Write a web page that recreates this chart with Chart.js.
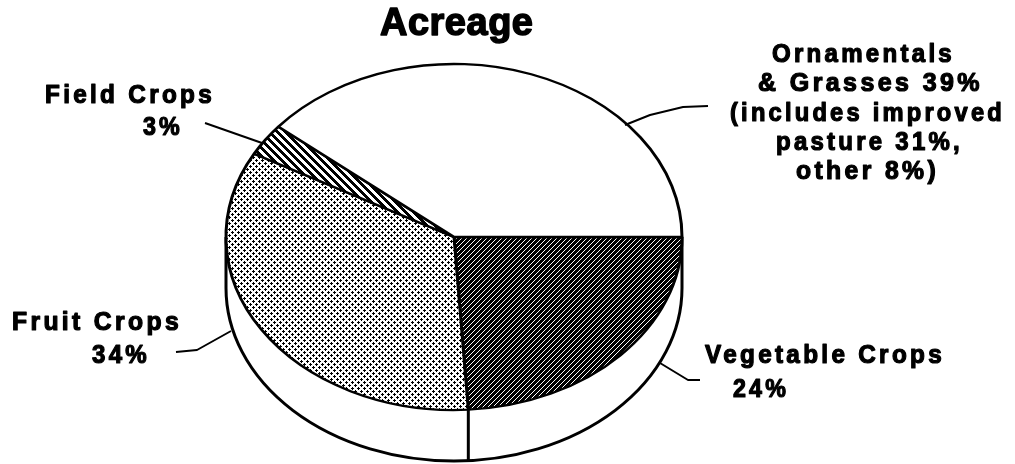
<!DOCTYPE html>
<html>
<head>
<meta charset="utf-8">
<title>Acreage</title>
<script src="https://cdn.jsdelivr.net/npm/chart.js@4"></script>
<style>
html, body { margin: 0; padding: 0; background: #fff; overflow: hidden; }
canvas { display: block; }
</style>
</head>
<body>
<canvas id="myChart" width="1015" height="464"></canvas>
<script>
// data, clockwise from the right hand edge of the pie
var categories = ['Vegetable Crops', 'Fruit Crops', 'Field Crops', 'Ornamentals & Grasses'];
var shares = [24, 34, 3, 39];

var chartTitle = 'Acreage';
var vegetableLines = ['Vegetable Crops', '24%'];
var fruitLines = ['Fruit Crops', '34%'];
var fieldLines = ['Field Crops', '3%'];
var ornamentalLines = ['Ornamentals', '& Grasses 39%', '(includes improved', 'pasture 31%,', 'other 8%)'];

var INK = '#000';
var TILT = 173 / 228;   // squash of the round pie into an ellipse
var RIM = 51;           // depth of the side wall
var FONT = 'bold 25px "Liberation Sans"';

// pixel tiles, no antialiasing so the texture stays hard like the print
function tile(w, h, isInk) {
    var c = document.createElement('canvas');
    c.width = w;
    c.height = h;
    var g = c.getContext('2d');
    g.fillStyle = '#fff';
    g.fillRect(0, 0, w, h);
    g.fillStyle = INK;
    for (var y = 0; y < h; y++) {
        for (var x = 0; x < w; x++) {
            if (isInk(x, y)) g.fillRect(x, y, 1, 1);
        }
    }
    return g.createPattern(c, 'repeat');
}

function hatch(size, ink, rising) {
    return tile(size, size, function (x, y) {
        return ((rising ? x + y : x - y + size) % size) < ink;
    });
}

// small round dots on a staggered grid
var dots = tile(6, 6, function (x, y) {
    return Math.abs(x - 1) + Math.abs(y - 1) <= 1 || Math.abs(x - 4) + Math.abs(y - 4) <= 1;
});

var patterns = [hatch(5, 4, true), dots, hatch(8, 4, false)];
var fills = [patterns[0], patterns[1], patterns[2], '#fff'];

// text blocks and their leader lines, in canvas pixels
var notes = [
    { lines: ornamentalLines, x: [772, 758, 730, 776, 796], y: [62, 91, 121, 150, 179],
      fit: [183, 227, 275, 187, 143],
      leader: [[625, 125], [650, 115], [683, 107], [708, 106]] },
    { lines: fieldLines, x: [45, 143], y: [103, 135], fit: [170, 40],
      leader: [[205, 123], [262, 143]] },
    { lines: fruitLines, x: [12, 92], y: [330, 363], fit: [170, 58],
      leader: [[231, 331], [197, 350], [176, 352]] },
    { lines: vegetableLines, x: [705, 733], y: [363, 397], fit: [240, 56],
      leader: [[660, 363], [688, 380], [700, 380]] }
];

var pie3d = {
    id: 'pie3d',
    beforeDatasetsDraw: function (chart) {
        var ctx = chart.ctx;
        var a = chart.getDatasetMeta(0).data[0];
        var r = a.outerRadius;
        ctx.save();
        ctx.strokeStyle = INK;
        ctx.lineWidth = 3;
        ctx.fillStyle = '#fff';
        ctx.beginPath();
        ctx.moveTo(a.x + r, a.y);
        ctx.lineTo(a.x + r, a.y + RIM);
        ctx.ellipse(a.x, a.y + RIM, r, r * TILT, 0, 0, Math.PI);
        ctx.lineTo(a.x - r, a.y);
        ctx.fill();
        ctx.stroke();
        // seam under the vegetable / fruit boundary
        var sx = a.x + r * Math.cos(a.endAngle);
        var sy = a.y + r * TILT * Math.sin(a.endAngle);
        ctx.beginPath();
        ctx.moveTo(sx, sy);
        ctx.lineTo(sx, sy + RIM);
        ctx.stroke();
        ctx.restore();
    },
    beforeDatasetDraw: function (chart) {
        var a = chart.getDatasetMeta(0).data[0];
        var ctx = chart.ctx;
        // cancel the squash for the textures, so every tile pixel lands on a canvas pixel
        var undo = new DOMMatrix()
            .scale(1, 1 / TILT)
            .translate(0, -a.y * (1 - TILT));
        patterns.forEach(function (p) { p.setTransform(undo); });
        ctx.save();
        ctx.translate(a.x, a.y);
        ctx.scale(1, TILT);
        ctx.translate(-a.x, -a.y);
    },
    afterDatasetDraw: function (chart) {
        chart.ctx.restore();
    },
    afterDraw: function (chart) {
        var ctx = chart.ctx;
        ctx.save();
        ctx.fillStyle = INK;
        ctx.strokeStyle = INK;
        ctx.textAlign = 'left';
        ctx.textBaseline = 'alphabetic';
        ctx.lineJoin = 'round';

        ctx.font = 'bold 38px "Liberation Sans"';
        ctx.letterSpacing = '0.5px';
        ctx.lineWidth = 1.5;
        ctx.fillText(chartTitle, 380, 35);
        ctx.strokeText(chartTitle, 380, 35);

        ctx.font = FONT;
        ctx.letterSpacing = '3.4px';
        notes.forEach(function (n) {
            ctx.lineWidth = 1.2;
            n.lines.forEach(function (line, i) {
                ctx.fillText(line, n.x[i], n.y[i], n.fit[i]);
                ctx.strokeText(line, n.x[i], n.y[i], n.fit[i]);
            });
            ctx.lineWidth = 2;
            ctx.beginPath();
            n.leader.forEach(function (p, i) {
                if (i === 0) ctx.moveTo(p[0], p[1]);
                else ctx.lineTo(p[0], p[1]);
            });
            ctx.stroke();
        });
        ctx.restore();
    }
};

var myPieChart = new Chart(document.getElementById('myChart').getContext('2d'), {
    type: 'pie',
    data: {
        labels: categories,
        datasets: [{
            data: shares,
            backgroundColor: fills,
            borderColor: INK,
            borderWidth: 3,
            radius: 228,
            clip: false
        }]
    },
    options: {
        responsive: false,
        animation: false,
        rotation: 90,
        layout: { padding: { left: 0, right: 107, top: 10, bottom: 0 } },
        plugins: {
            legend: { display: false },
            title: { display: false },
            tooltip: { enabled: false }
        }
    },
    plugins: [pie3d]
});
</script>
</body>
</html>
